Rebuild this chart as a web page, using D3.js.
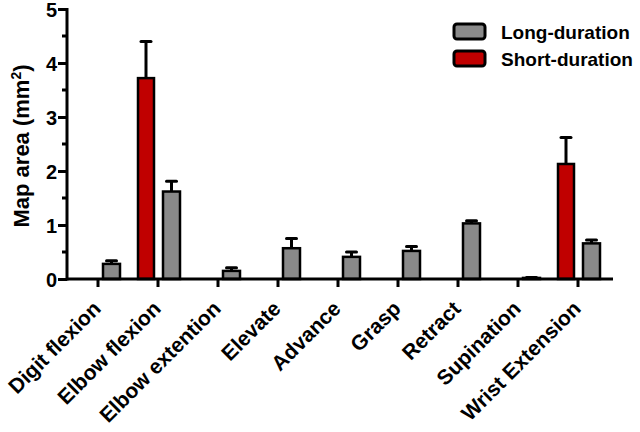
<!DOCTYPE html>
<html>
<head>
<meta charset="utf-8">
<script src="https://cdn.jsdelivr.net/npm/d3@7"></script>
<style>
  body { margin: 0; background: #fff; }
  text { font-family: Arial, "Liberation Sans", sans-serif; font-weight: bold; }
</style>
</head>
<body>
<svg id="canvas" width="640" height="432"></svg>
<script>
// datos
let categories = ['Digit flexion', 'Elbow flexion', 'Elbow extention', 'Elevate', 'Advance',
                  'Grasp', 'Retract', 'Supination', 'Wrist Extension'];
let longMean = [0.28, 1.62, 0.15, 0.57, 0.41, 0.52, 1.03, 0.02, 0.66];
let longErr  = [0.06, 0.19, 0.06, 0.18, 0.09, 0.08, 0.05, 0.01, 0.06];
let shortMean = [null, 3.72, null, null, null, null, null, null, 2.13];
let shortErr  = [null, 0.68, null, null, null, null, null, null, 0.49];
let yTicks = [0, 1, 2, 3, 4, 5];
let seriesNames = ['Long-duration', 'Short-duration'];
let seriesColors = ['#8a8a8a', '#c00000'];

let canvas = d3.select('#canvas');

let x = d3.scaleBand().domain(categories).range([68, 608]);
let y = d3.scaleLinear().domain([0, 5]).range([279, 9]);

let cx = (c) => x(c) + x.bandwidth() / 2;

let longData = categories.map((c, i) => ({c: c, v: longMean[i], e: longErr[i]}));
let shortData = categories.map((c, i) => ({c: c, v: shortMean[i], e: shortErr[i]})).filter(d => d.v !== null);

let drawSeries = (data, offset, w, color) => {
  let g = canvas.append('g');
  // barra de error (solo hacia arriba)
  g.selectAll('line.err')
   .data(data)
   .enter()
   .append('line')
   .attr('x1', d => cx(d.c) + offset + w / 2)
   .attr('x2', d => cx(d.c) + offset + w / 2)
   .attr('y1', d => y(d.v))
   .attr('y2', d => y(d.v + d.e))
   .attr('stroke', '#000')
   .attr('stroke-width', 3);
  g.selectAll('line.cap')
   .data(data)
   .enter()
   .append('line')
   .attr('x1', d => cx(d.c) + offset + w / 2 - 5)
   .attr('x2', d => cx(d.c) + offset + w / 2 + 5)
   .attr('y1', d => y(d.v + d.e))
   .attr('y2', d => y(d.v + d.e))
   .attr('stroke', '#000')
   .attr('stroke-width', 3)
   .attr('stroke-linecap', 'round');
  g.selectAll('rect')
   .data(data)
   .enter()
   .append('rect')
   .attr('x', d => cx(d.c) + offset)
   .attr('width', w)
   .attr('y', d => y(d.v))
   .attr('height', d => y(0) - y(d.v))
   .attr('fill', color)
   .attr('stroke', '#000')
   .attr('stroke-width', 2.5);
};

drawSeries(shortData, -20, 16, seriesColors[1]);
drawSeries(longData, 5, 17, seriesColors[0]);

// eje Y
let yAxis = d3.axisLeft(y).tickValues(yTicks).tickFormat(d3.format('d')).tickSize(9).tickPadding(1);
let gy = canvas.append('g').attr('transform', 'translate(67,0)').call(yAxis);
gy.select('.domain').attr('stroke-width', 3).attr('d', 'M0,' + (y(5) - 1) + 'V' + (y(0) + 1.5));
gy.selectAll('.tick line').attr('stroke-width', 3);
gy.selectAll('.tick text').style('font-size', '20px').attr('dy', '0.36em');
// ticks menores
let minor = d3.range(0.5, 5, 1);
canvas.append('g').selectAll('line')
  .data(minor)
  .enter()
  .append('line')
  .attr('x1', 62).attr('x2', 67)
  .attr('y1', d => y(d)).attr('y2', d => y(d))
  .attr('stroke', '#000').attr('stroke-width', 3);

// eje X
let xAxis = d3.axisBottom(x).tickSize(8).tickFormat('');
let gx = canvas.append('g').attr('transform', 'translate(0,279)').call(xAxis);
gx.select('.domain').attr('stroke-width', 3).attr('d', 'M66,0H613');
gx.selectAll('.tick line').attr('stroke-width', 3);

canvas.append('g').selectAll('text')
  .data(categories)
  .enter()
  .append('text')
  .attr('transform', d => 'translate(' + (cx(d) + 4) + ',310) rotate(-45)')
  .attr('text-anchor', 'end')
  .style('font-size', '21px')
  .text(d => d);

// titulo eje Y
let yl = canvas.append('text')
  .attr('transform', 'translate(29,146) rotate(-90)')
  .attr('text-anchor', 'middle')
  .style('font-size', '22px');
yl.append('tspan').text('Map area (mm');
yl.append('tspan').attr('dy', -8).style('font-size', '14px').text('2');
yl.append('tspan').attr('dy', 8).text(')');

// leyenda
let legend = canvas.append('g').selectAll('g')
  .data(seriesNames)
  .enter()
  .append('g')
  .attr('transform', (d, i) => 'translate(454,' + (24 + i * 27) + ')');
legend.append('rect')
  .attr('width', 31).attr('height', 15).attr('rx', 3)
  .attr('fill', (d, i) => seriesColors[i])
  .attr('stroke', '#000').attr('stroke-width', 3);
legend.append('text')
  .attr('x', 47).attr('y', 15)
  .style('font-size', '19px')
  .text(d => d);
</script>
</body>
</html>
